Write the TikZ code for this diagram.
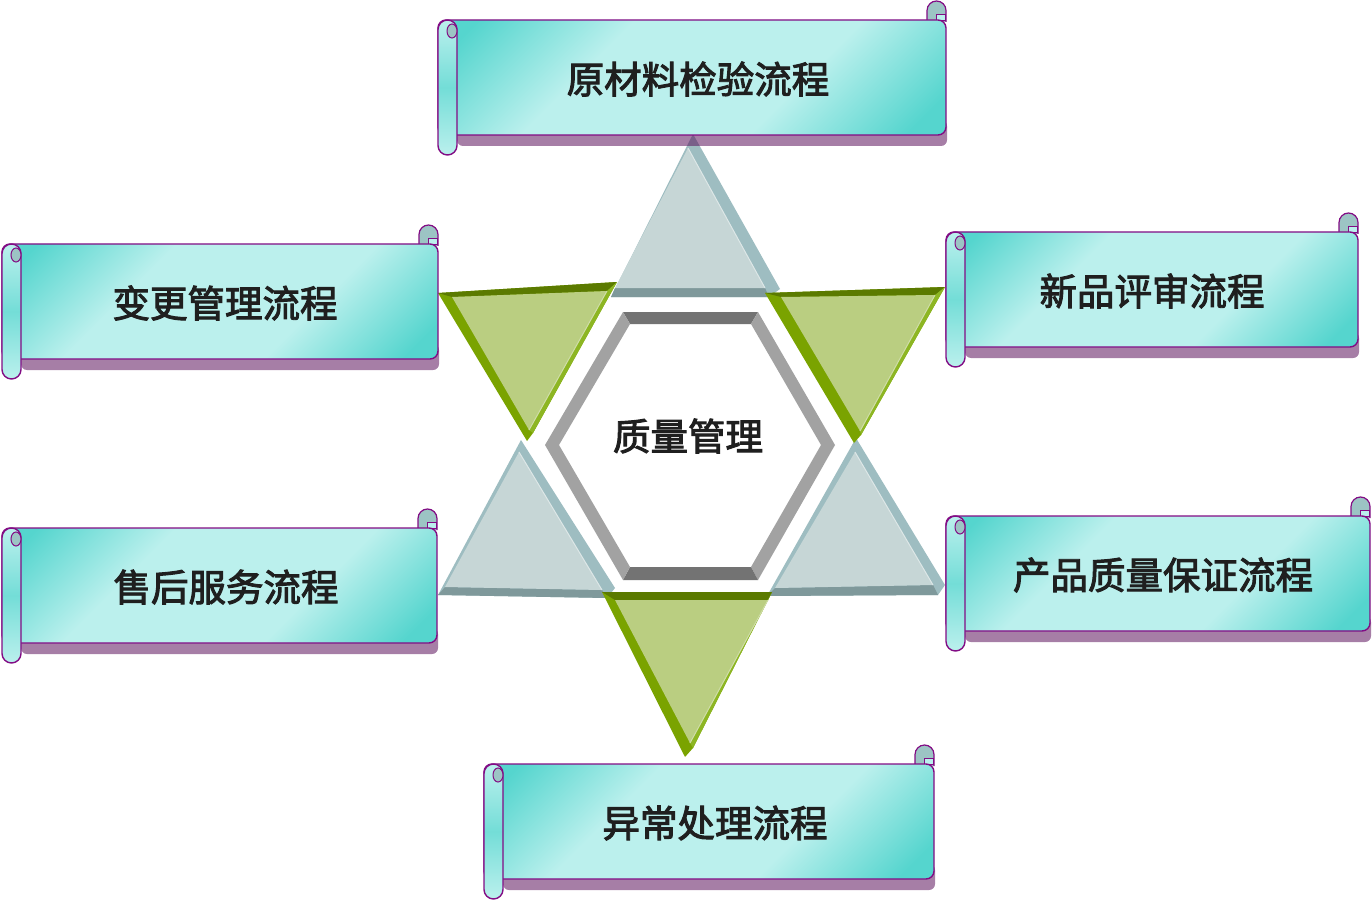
\documentclass[tikz,border=0pt]{standalone}
\usepackage{fontspec}
\newfontfamily\cjk[FakeBold=2.6]{Noto Sans CJK SC}
\usetikzlibrary{calc}
\definecolor{scrolldark}{HTML}{55D5CE}
\definecolor{scrolllight}{HTML}{BBF0ED}
\definecolor{scrolledge}{HTML}{820C84}
\definecolor{scrollshadow}{HTML}{5B105B}
\definecolor{curlfill}{HTML}{9CC4C4}
\definecolor{grayside}{HTML}{9EBDC1}
\definecolor{graybase}{HTML}{7F999B}
\definecolor{grayfill}{HTML}{C6D6D6}
\definecolor{greenleft}{HTML}{7AA300}
\definecolor{greentop}{HTML}{5B7A00}
\definecolor{greenright}{HTML}{8DB623}
\definecolor{greenfill}{HTML}{BACE81}
\definecolor{hexdark}{HTML}{737373}
\definecolor{hexlight}{HTML}{A2A2A2}
\definecolor{label}{HTML}{1F1F1F}
\pgfdeclarehorizontalshading{scrollshade}{100bp}{color(0bp)=(scrolldark); color(19bp)=(scrolldark);
  color(37bp)=(scrolllight); color(63bp)=(scrolllight); color(81bp)=(scrolldark); color(100bp)=(scrolldark)}

\begin{document}
\begin{tikzpicture}[x=1pt, y=-1pt,
  scrollbody/.style={draw=scrolledge, line width=1.4pt, rounded corners=8pt,
    shading=scrollshade, shading angle=-45},
  scrollroll/.style={draw=scrolledge, line width=1.4pt, rounded corners=9.5pt,
    top color=scrolllight, bottom color=scrolllight, middle color=scrolldark!70!scrolllight},
  scrollshadow/.style={fill=scrollshadow, fill opacity=0.54, rounded corners=6pt},
  scrollcurl/.style={draw=scrolledge, line width=1.2pt, fill=curlfill},
  scrolltext/.style={font=\cjk\fontsize{37.5}{42}\selectfont, text=label, inner sep=0pt},
]
\useasboundingbox (0,0) rectangle (1372,901);

\foreach \ax/\ay/\cx/\cy/\dx/\dy/\bx/\by/\px/\py/\qx/\qy/\rx/\ry in {
    693/134/780/289/769/297/611/297/688/148/615/288/765/288,
    521/440/615/588/607/598/438/595/519/452/445/587/602/590,
    856/438/945/585/938/595/767/596/855/452/775/588/933/585} {
  \fill[grayside] (\ax,\ay) -- (\cx,\cy) -- (\dx,\dy) -- (\bx,\by) -- cycle;
  \fill[graybase] (\bx,\by) -- (\dx,\dy) -- (\rx,\ry) -- (\qx,\qy) -- cycle;
  \fill[grayfill] (\px,\py) -- (\qx,\qy) -- (\rx,\ry) -- cycle;
  \draw[white!40!grayfill, line width=1pt] (\px,\py) -- (\rx,\ry);
}

\foreach \ax/\ay/\bx/\by/\dx/\dy/\cx/\cy/\px/\py/\qx/\qy/\rx/\ry in {
    438/293/617/282/533/433/527/441/452/297/607/291/529/430,
    765/293/945/287/861/435/854/443/781/297/935/295/860/431,
    602/592/772/592/693/748/685/757/615/600/768/600/690/743} {
  \fill[greenleft] (\ax,\ay) -- (\bx,\by) -- (\dx,\dy) -- (\cx,\cy) -- cycle;
  \fill[greentop] (\ax,\ay) -- (\bx,\by) -- (\qx,\qy) -- (\px,\py) -- cycle;
  \fill[greenright] (\bx,\by) -- (\dx,\dy) -- (\rx,\ry) -- (\qx,\qy) -- cycle;
  \fill[greenfill] (\px,\py) -- (\qx,\qy) -- (\rx,\ry) -- cycle;
  \draw[white!30!greenfill, line width=1pt] (\qx,\qy) -- (\rx,\ry);
}

\coordinate (o1) at (623,312); \coordinate (o2) at (758,312);
\coordinate (o3) at (835,445); \coordinate (o4) at (758,580);
\coordinate (o5) at (623,580); \coordinate (o6) at (545,445);
\coordinate (i1) at (630,324); \coordinate (i2) at (751,324);
\coordinate (i3) at (821,445); \coordinate (i4) at (751,567);
\coordinate (i5) at (630,567); \coordinate (i6) at (559,445);
\foreach \i/\j/\c in {1/2/hexdark,2/3/hexlight,3/4/hexlight,4/5/hexdark,5/6/hexlight,6/1/hexlight}
  \fill[\c] (o\i) -- (o\j) -- (i\j) -- (i\i) -- cycle;
\node (zhiliang) [scrolltext] at (688,436) {质量管理};

\foreach \L/\R/\T/\tx/\nm/\txt in {
    438/946/20/698/yuancailiao/原材料检验流程,
    2/438/244/225/biangeng/变更管理流程,
    946/1358/232/1152/xinpin/新品评审流程,
    2/437/528/226/shouhou/售后服务流程,
    946/1370/516/1163/chanpin/产品质量保证流程,
    484/934/764/715/yichang/异常处理流程} {
  \fill[scrollshadow] (\L+19,\T+100) rectangle (\R+1,\T+126);
  \draw[scrollcurl, rounded corners=9.5pt] (\R-19,\T+2) -- (\R-19,\T-19) -- (\R,\T-19) -- (\R,\T+2);
  \filldraw[fill=scrolllight, draw=scrolledge, line width=0.8pt] (\R-10,\T) -- (\R-10,\T-6) -- (\R-1,\T-6) -- (\R-1,\T) -- cycle;
  \draw[scrollbody] (\L,\T) rectangle (\R,\T+115);
  \draw[scrollroll] (\L,\T) rectangle (\L+19,\T+135);
  \filldraw[fill=curlfill, draw=scrolledge, line width=1pt] (\L+14,\T+11) ellipse [x radius=5, y radius=7];
  \node (\nm) [scrolltext] at (\tx,\T+59) {\txt};
}
\end{tikzpicture}
\end{document}
